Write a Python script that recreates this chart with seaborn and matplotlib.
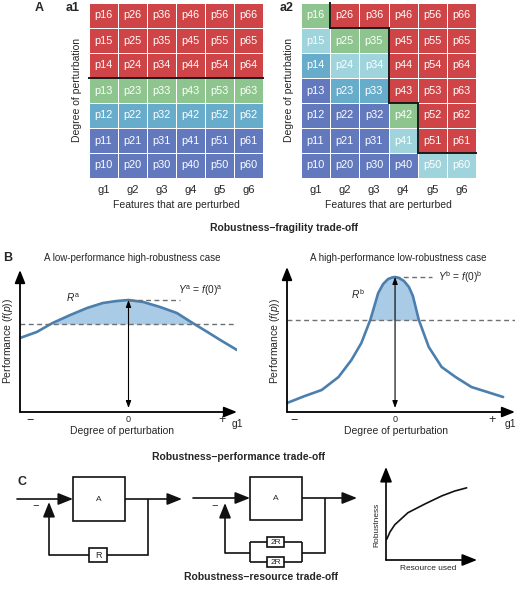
import numpy as np
import pandas as pd
import matplotlib
matplotlib.use("Agg")
import matplotlib.pyplot as plt
from matplotlib.colors import ListedColormap
from matplotlib.patches import Rectangle
import seaborn as sns

# ------------------------------------------------------------------ data
features = ["g1", "g2", "g3", "g4", "g5", "g6"]
levels = [0, 1, 2, 3, 4, 5, 6]
class_names = ["low", "mid", "high", "edge", "fail"]
class_colors = ["#6279be", "#68accc", "#a0d4dc", "#8ec48e", "#cf4446"]

# class of each cell, one list per feature, from level 0 (bottom) to level 6 (top)
a1_g1 = ["low", "low", "mid", "edge", "fail", "fail", "fail"]
a1_g2 = ["low", "low", "mid", "edge", "fail", "fail", "fail"]
a1_g3 = ["low", "low", "mid", "edge", "fail", "fail", "fail"]
a1_g4 = ["low", "low", "mid", "edge", "fail", "fail", "fail"]
a1_g5 = ["low", "low", "mid", "edge", "fail", "fail", "fail"]
a1_g6 = ["low", "low", "mid", "edge", "fail", "fail", "fail"]

a2_g1 = ["low", "low", "low", "low", "mid", "high", "edge"]
a2_g2 = ["low", "low", "low", "mid", "high", "edge", "fail"]
a2_g3 = ["low", "low", "low", "mid", "high", "edge", "fail"]
a2_g4 = ["low", "high", "edge", "fail", "fail", "fail", "fail"]
a2_g5 = ["high", "fail", "fail", "fail", "fail", "fail", "fail"]
a2_g6 = ["high", "fail", "fail", "fail", "fail", "fail", "fail"]

# performance curves f(p)
perf_a_x = [-1.10, -0.93, -0.77, -0.59, -0.42, -0.26, -0.12, 0.00, 0.15, 0.32, 0.49, 0.65, 0.80, 0.93, 1.10]
perf_a_y = [0.74, 0.80, 0.89, 0.97, 1.04, 1.09, 1.11, 1.12, 1.10, 1.05, 0.99, 0.89, 0.80, 0.72, 0.62]
thr_a = 0.88

perf_b_x = [-1.09, -0.91, -0.74, -0.57, -0.44, -0.34, -0.25, -0.17, -0.12, -0.07, -0.03, 0.00,
            0.04, 0.09, 0.14, 0.18, 0.24, 0.34, 0.47, 0.61, 0.77, 1.09]
perf_b_y = [0.09, 0.16, 0.22, 0.35, 0.52, 0.69, 0.92, 1.19, 1.28, 1.33, 1.345, 1.35,
            1.34, 1.31, 1.25, 1.16, 0.92, 0.65, 0.45, 0.35, 0.25, 0.15]
thr_b = 0.92

# robustness versus resource
resource = [0.01, 0.05, 0.11, 0.275, 0.49, 0.70, 0.86, 1.01]
robustness = [0.26, 0.35, 0.44, 0.59, 0.70, 0.80, 0.86, 0.90]

# ------------------------------------------------------------------ style
sns.set_theme(style="white")
plt.rcParams["font.family"] = ["Liberation Sans", "DejaVu Sans"]
plt.rcParams["mathtext.fontset"] = "custom"
plt.rcParams["mathtext.rm"] = "Liberation Sans"
plt.rcParams["mathtext.it"] = "Liberation Sans:italic"
plt.rcParams["mathtext.bf"] = "Liberation Sans:bold"

W, H = 517, 590
fig = plt.figure(figsize=(W / 100, H / 100), dpi=100)
fig.patch.set_facecolor("white")


def axes_px(x0, y0, x1, y1):
    return fig.add_axes([x0 / W, 1 - y1 / H, (x1 - x0) / W, (y1 - y0) / H])


ov = fig.add_axes([0, 0, 1, 1])
ov.set_xlim(0, W)
ov.set_ylim(H, 0)
ov.axis("off")
ov.patch.set_alpha(0)

CURVE = "#4a7fae"
FILL = "#a9cbe5"
DASH = "#707070"


def t(x, y, s, **kw):
    kw.setdefault("ha", "center")
    kw.setdefault("va", "center")
    ov.text(x, y, s, **kw)


# ------------------------------------------------------------------ panel A
def draw_grid(ax, cols):
    M = np.array([[class_names.index(c[l]) for c in cols] for l in reversed(levels)])
    labels = np.array([[f"p{j + 1}{l}" for j in range(len(cols))] for l in reversed(levels)])
    df = pd.DataFrame(M, index=list(reversed(levels)), columns=features)
    sns.heatmap(df, ax=ax, cmap=ListedColormap(class_colors), vmin=-0.5, vmax=4.5,
                cbar=False, annot=labels, fmt="",
                annot_kws=dict(color="white", fontsize=7.8),
                linewidths=0.7, linecolor="white",
                xticklabels=features, yticklabels=False)
    fail = M == class_names.index("fail")
    nr, nc = M.shape
    for i in range(nr - 1):
        for j in range(nc):
            if fail[i, j] != fail[i + 1, j]:
                ax.plot([j, j + 1], [i + 1, i + 1], color="#1a1a1a", lw=1.4,
                        solid_capstyle="projecting", clip_on=False)
    for i in range(nr):
        for j in range(nc - 1):
            if fail[i, j] != fail[i, j + 1]:
                ax.plot([j + 1, j + 1], [i, i + 1], color="#1a1a1a", lw=1.4,
                        solid_capstyle="projecting", clip_on=False)
    ax.tick_params(axis="x", length=0, pad=5, labelsize=8, rotation=0)
    ax.set_xlabel("Features that are perturbed", fontsize=7.5, labelpad=4)
    ax.set_ylabel("Degree of perturbation", fontsize=7.5, labelpad=5)


ax_a1 = axes_px(89, 3, 263, 178)
draw_grid(ax_a1, [a1_g1, a1_g2, a1_g3, a1_g4, a1_g5, a1_g6])
ax_a2 = axes_px(301, 3, 476, 178)
draw_grid(ax_a2, [a2_g1, a2_g2, a2_g3, a2_g4, a2_g5, a2_g6])

t(39, 8, "A", fontsize=9, fontweight="bold")
t(73, 8, "a1", fontsize=9, fontweight="bold")
t(287, 8, "a2", fontsize=9, fontweight="bold")
t(284, 228, "Robustness\u2212fragility trade-off", fontsize=7.5, fontweight="bold")

# ------------------------------------------------------------------ panel B
ARROW_AX = dict(arrowstyle="-|>,head_length=0.65,head_width=0.26", color="black",
                lw=1.3, mutation_scale=12, shrinkA=0, shrinkB=0)


def perf_panel(ax, xs, ys, thr, xlim, ylim, dash_end, lab_pos, lab, r_pos, r_lab,
               ticks_x, g1_x):
    ax.set_xlim(*xlim)
    ax.set_ylim(*ylim)
    ax.patch.set_alpha(0)
    for s in ax.spines.values():
        s.set_visible(False)
    ax.set_xticks([])
    ax.set_yticks([])
    xs = np.array(xs)
    ys = np.array(ys)
    peak = ys[np.argmin(np.abs(xs))]
    ax.fill_between(xs, ys, thr, where=ys >= thr, interpolate=True, color=FILL, lw=0)
    sns.lineplot(x=xs, y=ys, ax=ax, sort=False, estimator=None, color=CURVE, lw=1.9)
    ax.axhline(thr, color=DASH, ls=(0, (3.5, 2.5)), lw=1.0)
    ax.plot([0, dash_end], [peak, peak], color=DASH, ls=(0, (3.5, 2.5)), lw=1.0)
    ax.annotate("", xy=(0, peak), xytext=(0, 0.04),
                arrowprops=dict(arrowstyle="<|-|>,head_length=0.6,head_width=0.22",
                                color="black", lw=0.8, mutation_scale=7,
                                shrinkA=0, shrinkB=0))
    ax.annotate("", xy=(0, 1), xytext=(0, 0), xycoords="axes fraction",
                textcoords="axes fraction", arrowprops=ARROW_AX)
    ax.annotate("", xy=(1, 0), xytext=(0, 0), xycoords="axes fraction",
                textcoords="axes fraction", arrowprops=ARROW_AX)
    tr = ax.get_xaxis_transform()
    ax.text(ticks_x[0], -0.065, "\u2212", transform=tr, ha="center", va="center", fontsize=9)
    ax.text(ticks_x[1], -0.05, "0", transform=tr, ha="center", va="center", fontsize=6.5)
    ax.text(ticks_x[2], -0.055, "+", transform=tr, ha="center", va="center", fontsize=9)
    ax.text(g1_x, -0.085, "g1", transform=ax.transAxes, ha="center", va="center", fontsize=7.5)
    ax.text(lab_pos[0], lab_pos[1], lab, ha="left", va="center", fontsize=7.3)
    ax.text(r_pos[0], r_pos[1], r_lab, ha="center", va="center", fontsize=7.3)


axL = axes_px(20, 270, 237, 412)
perf_panel(axL, perf_a_x, perf_a_y, thr_a, (-1.1, 1.1), (0, 1.42), 0.52,
           (0.50, 1.21), r"$Y^{\mathrm{a}}$ = $f$(0)$^{\mathrm{a}}$",
           (-0.56, 1.14), r"$R^{\mathrm{a}}$", (-1.0, 0.0, 0.95), 1.0)
axR = axes_px(287, 267, 515, 412)
perf_panel(axR, perf_b_x, perf_b_y, thr_b, (-1.09, 1.21), (0, 1.45), 0.37,
           (0.43, 1.35), r"$Y^{\mathrm{b}}$ = $f$(0)$^{\mathrm{b}}$",
           (-0.38, 1.18), r"$R^{\mathrm{b}}$", (-1.02, 0.0, 0.98), 0.98)

t(8, 258, "B", fontsize=9, fontweight="bold")
t(132, 258, "A low-performance high-robustness case", fontsize=7)
t(398, 258, "A high-performance low-robustness case", fontsize=7)
t(122, 431, "Degree of perturbation", fontsize=7.5)
t(396, 431, "Degree of perturbation", fontsize=7.5)
t(8, 341, r"Performance ($f$($p$))", fontsize=7.5, rotation=90)
t(275, 341, r"Performance ($f$($p$))", fontsize=7.5, rotation=90)
t(238, 457, "Robustness\u2212performance trade-off", fontsize=7.5, fontweight="bold")

# ------------------------------------------------------------------ panel C
ARR = dict(arrowstyle="-|>,head_length=0.75,head_width=0.3", color="#111111",
           lw=1.2, mutation_scale=12, shrinkA=0, shrinkB=0)
LW = 1.2


def arrow(p0, p1):
    ov.annotate("", xy=p1, xytext=p0, arrowprops=ARR)


def line(xs, ys):
    ov.plot(xs, ys, color="#111111", lw=LW, solid_joinstyle="miter", solid_capstyle="butt")


def box(x, y, w, h, label, fs):
    ov.add_patch(Rectangle((x, y), w, h, facecolor="white", edgecolor="#111111", lw=LW, zorder=3))
    ov.text(x + w / 2, y + h / 2 + 0.5, label, ha="center", va="center", fontsize=fs, zorder=4,
            fontstretch="condensed")


t(22, 482, "C", fontsize=9, fontweight="bold")
# diagram 1
arrow((17, 499), (73, 499))
arrow((125, 499), (182, 499))
line([148, 148, 49], [499, 555, 555])
arrow((49, 555), (49, 502))
box(73, 477, 52, 44, "A", 6)
box(89, 548, 18, 14, "R", 6.5)
t(36, 505, "\u2212", fontsize=8)

# diagram 2
arrow((193, 498), (250, 498))
arrow((302, 498), (357, 498))
line([325, 325, 302], [498, 553, 553])
line([302, 302], [542, 562])
line([250, 302], [542, 542])
line([250, 302], [562, 562])
line([250, 250], [542, 562])
line([250, 225], [553, 553])
arrow((225, 553), (225, 503))
box(250, 477, 52, 43, "A", 6)
box(267, 537, 17, 10, "2R", 6)
box(267, 557, 17, 10, "2R", 6)
t(215, 505, "\u2212", fontsize=8)

# robustness vs resource
axC = axes_px(386, 467, 477, 560)
axC.set_xlim(0, 1.14)
axC.set_ylim(0, 1.16)
axC.patch.set_alpha(0)
for s in axC.spines.values():
    s.set_visible(False)
axC.set_xticks([])
axC.set_yticks([])
sns.lineplot(x=resource, y=robustness, ax=axC, sort=False, estimator=None, color="#111111", lw=1.2)
ARRC = dict(arrowstyle="-|>,head_length=0.75,head_width=0.3", color="black",
            lw=1.2, mutation_scale=12, shrinkA=0, shrinkB=0)
axC.annotate("", xy=(0, 1), xytext=(0, 0), xycoords="axes fraction",
             textcoords="axes fraction", arrowprops=ARRC)
axC.annotate("", xy=(1, 0), xytext=(0, 0), xycoords="axes fraction",
             textcoords="axes fraction", arrowprops=ARRC)
t(377, 525, "Robustness", fontsize=6, rotation=90)
t(428, 568, "Resource used", fontsize=6)
t(261, 577, "Robustness\u2212resource trade-off", fontsize=7.5, fontweight="bold")

fig.savefig("out.png", dpi=100, facecolor="white")
